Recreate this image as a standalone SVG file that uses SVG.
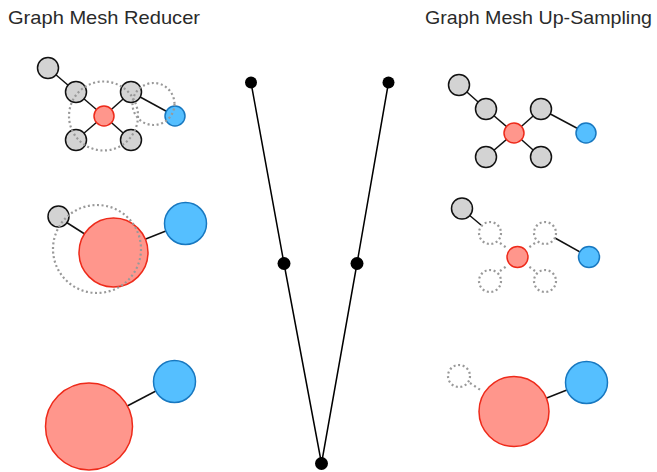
<svg xmlns="http://www.w3.org/2000/svg" width="657" height="472" viewBox="0 0 657 472">
<style>
.t{font-family:"Liberation Sans",Arial,sans-serif;font-size:19px;fill:#2a2a2a}
.e{stroke:#111;stroke-width:1.5;fill:none}
.ed{stroke:#999;stroke-width:2.2;stroke-dasharray:2 3;fill:none}
.g{fill:#d3d3d3;stroke:#111;stroke-width:1.5}
.r{fill:#ff968c;stroke:#ee2a1a;stroke-width:1.5}
.b{fill:#55bfff;stroke:#1878c0;stroke-width:1.5}
.d{fill:none;stroke:#999;stroke-width:2.2;stroke-dasharray:2 2.6}
.v{stroke:#000;stroke-width:1.5;fill:none}
.k{fill:#000}
</style>
<rect width="657" height="472" fill="#fff"/>
<text class="t" x="8" y="23.5" textLength="192" lengthAdjust="spacingAndGlyphs">Graph Mesh Reducer</text>
<text class="t" x="425" y="23.5" textLength="227" lengthAdjust="spacingAndGlyphs">Graph Mesh Up-Sampling</text>
<g id="connectors">
<line class="e" x1="48" y1="68" x2="76" y2="92"/>
<line class="e" x1="76" y1="92" x2="104" y2="116"/>
<line class="e" x1="131" y1="92" x2="104" y2="116"/>
<line class="e" x1="76" y1="140" x2="104" y2="116"/>
<line class="e" x1="131" y1="140" x2="104" y2="116"/>
<line class="e" x1="131" y1="92" x2="175" y2="116"/>
<line class="e" x1="58" y1="217" x2="113" y2="252"/>
<line class="e" x1="113" y1="252" x2="186" y2="223"/>
<line class="e" x1="89" y1="426" x2="175" y2="381"/>
<line class="e" x1="459" y1="85" x2="486" y2="109"/>
<line class="e" x1="486" y1="109" x2="514" y2="133"/>
<line class="e" x1="541" y1="109" x2="514" y2="133"/>
<line class="e" x1="486" y1="157" x2="514" y2="133"/>
<line class="e" x1="541" y1="157" x2="514" y2="133"/>
<line class="e" x1="541" y1="109" x2="586" y2="133"/>
<line class="e" x1="462" y1="209" x2="481" y2="225"/>
<line class="e" x1="555" y1="238" x2="589" y2="257"/>
<line class="ed" x1="500" y1="243" x2="508" y2="249"/>
<line class="ed" x1="535" y1="243" x2="527" y2="249"/>
<line class="ed" x1="500" y1="271" x2="508" y2="265"/>
<line class="ed" x1="535" y1="271" x2="527" y2="265"/>
<line class="ed" x1="470" y1="383" x2="482" y2="391"/>
<line class="e" x1="514" y1="411" x2="587" y2="382"/>
<polyline class="v" points="251,82.5 284,263.5 321.5,463.5 357,263.5 388.5,82.5"/>
</g>
<g id="reducer-1">
<circle class="g" cx="48" cy="68" r="10.5"/>
<circle class="g" cx="76" cy="92" r="10.5"/>
<circle class="g" cx="131" cy="92" r="10.5"/>
<circle class="g" cx="76" cy="140" r="10.5"/>
<circle class="g" cx="131" cy="140" r="10.5"/>
<circle class="r" cx="104" cy="116" r="10"/>
<circle class="b" cx="175" cy="116" r="10"/>
<circle class="d" cx="103.5" cy="116" r="34.5"/>
<circle class="d" cx="153.5" cy="104" r="21"/>
</g>
<g id="reducer-2">
<circle class="g" cx="58.5" cy="216.5" r="10.5"/>
<circle class="r" cx="113.5" cy="252.5" r="34.5"/>
<circle class="b" cx="185.5" cy="223.5" r="21"/>
<circle class="d" cx="97" cy="249" r="44"/>
</g>
<g id="reducer-3">
<circle class="r" cx="89" cy="426.5" r="43.5"/>
<circle class="b" cx="174.5" cy="381.5" r="21"/>
</g>
<g id="v-path">
<circle class="k" cx="251" cy="82.5" r="6"/>
<circle class="k" cx="388.5" cy="82.5" r="6"/>
<circle class="k" cx="284" cy="263.5" r="6.5"/>
<circle class="k" cx="357" cy="263.5" r="6.5"/>
<circle class="k" cx="321.5" cy="463.5" r="6.5"/>
</g>
<g id="upsample-1">
<circle class="g" cx="459" cy="85" r="10.5"/>
<circle class="g" cx="486" cy="109" r="10.5"/>
<circle class="g" cx="541" cy="109" r="10.5"/>
<circle class="g" cx="486" cy="157" r="10.5"/>
<circle class="g" cx="541" cy="157" r="10.5"/>
<circle class="r" cx="514" cy="133" r="10"/>
<circle class="b" cx="586" cy="133" r="10"/>
</g>
<g id="upsample-2">
<circle class="g" cx="462" cy="208.5" r="10.5"/>
<circle class="d" cx="490" cy="233" r="11"/>
<circle class="d" cx="545" cy="233" r="11"/>
<circle class="d" cx="490" cy="281" r="11"/>
<circle class="d" cx="545" cy="281" r="11"/>
<circle class="r" cx="517.5" cy="257" r="10.5"/>
<circle class="b" cx="589" cy="257" r="10.5"/>
</g>
<g id="upsample-3">
<circle class="d" cx="459" cy="376" r="11"/>
<circle class="r" cx="514" cy="411.5" r="35"/>
<circle class="b" cx="586.5" cy="382.5" r="21"/>
</g>
</svg>
